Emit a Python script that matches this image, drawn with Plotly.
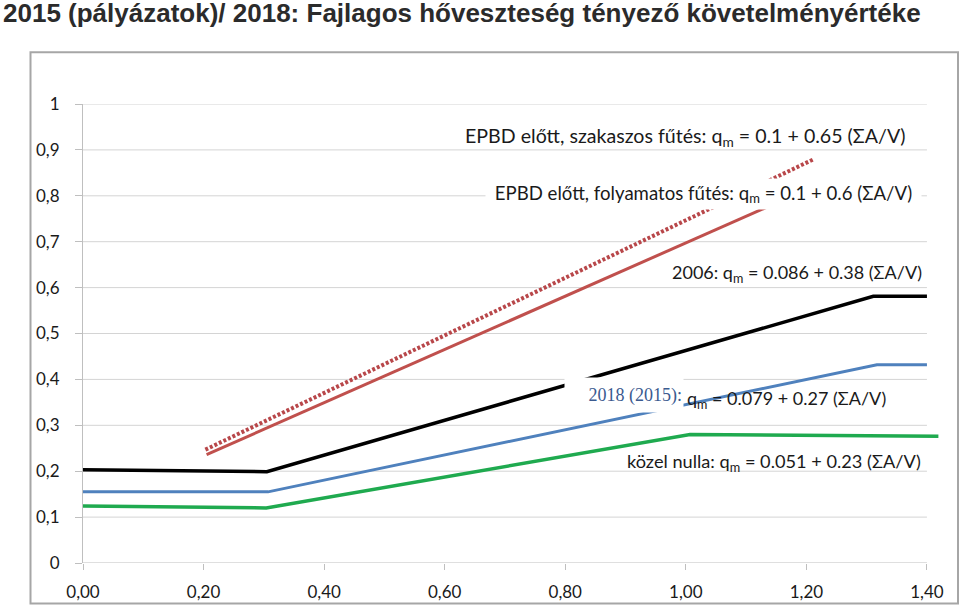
import plotly.graph_objects as go

# ---- data ----
x_ticks = [0.0, 0.2, 0.4, 0.6, 0.8, 1.0, 1.2, 1.4]
x_tick_labels = ["0,00", "0,20", "0,40", "0,60", "0,80", "1,00", "1,20", "1,40"]
y_ticks = [0, 0.1, 0.2, 0.3, 0.4, 0.5, 0.6, 0.7, 0.8, 0.9, 1.0]
y_tick_labels = ["0", "0,1", "0,2", "0,3", "0,4", "0,5", "0,6", "0,7", "0,8", "0,9", "1"]

red_dot_x = [0.203, 1.211]
red_dot_y = [0.247, 0.879]
red_x = [0.205, 1.17]
red_y = [0.236, 0.796]
black_x = [0.0, 0.305, 1.311, 1.40]
black_y = [0.203, 0.199, 0.581, 0.581]
blue_x = [0.0, 0.307, 1.317, 1.40]
blue_y = [0.155, 0.155, 0.432, 0.432]
green_x = [0.0, 0.304, 1.007, 1.419]
green_y = [0.124, 0.120, 0.280, 0.276]

title_text = "<b>2015 (pályázatok)/ 2018: Fajlagos hőveszteség tényező követelményértéke</b>"
lbl_szak = "EPBD előtt, szakaszos fűtés: q<sub>m</sub> = 0.1 + 0.65 (ΣA/V)"
lbl_foly = "EPBD előtt, folyamatos fűtés: q<sub>m</sub> = 0.1 + 0.6 (ΣA/V)"
lbl_2006 = "2006: q<sub>m</sub> = 0.086 + 0.38 (ΣA/V)"
lbl_2018a = "2018 (2015):"
lbl_2018b = "q<sub>m</sub> = 0.079 + 0.27 (ΣA/V)"
lbl_kozel = "közel nulla: q<sub>m</sub> = 0.051 + 0.23 (ΣA/V)"

# ---- layout geometry ----
W, H = 960, 614
ML, MR, MT, MB = 83, 21, 104, 45
PW, PH = W - ML - MR, H - MT - MB
XMAX = 1.42


def px_x(px):  # pixel -> data x
    return (px - ML) / PW * XMAX


def px_y(py):  # pixel -> data y
    return (H - MB - py) / PH


def paper_x(px):
    return (px - ML) / PW


def paper_y(py):
    return (H - MB - py) / PH


fig = go.Figure()

fig.add_trace(go.Scatter(x=red_dot_x, y=red_dot_y, mode="lines",
                         line=dict(color="#b8474a", width=4, dash="3px,2px"),
                         hoverinfo="skip"))
fig.add_trace(go.Scatter(x=red_x, y=red_y, mode="lines",
                         line=dict(color="#c0504d", width=3), hoverinfo="skip"))
fig.add_trace(go.Scatter(x=black_x, y=black_y, mode="lines",
                         line=dict(color="#000000", width=3.5), hoverinfo="skip"))
fig.add_trace(go.Scatter(x=blue_x, y=blue_y, mode="lines",
                         line=dict(color="#4f81bd", width=3), hoverinfo="skip"))
fig.add_trace(go.Scatter(x=green_x, y=green_y, mode="lines",
                         line=dict(color="#1faa4f", width=3.5), hoverinfo="skip"))

shapes = []
# chart border
shapes.append(dict(type="rect", xref="paper", yref="paper",
                   x0=paper_x(30.5), x1=paper_x(958), y0=paper_y(610), y1=paper_y(51.5),
                   line=dict(color="#a6a6a6", width=2), layer="below"))
# horizontal gridlines, ending at the last x tick
for v in y_ticks:
    shapes.append(dict(type="line", xref="x", yref="y",
                       x0=x_ticks[0], x1=x_ticks[-1], y0=v, y1=v,
                       line=dict(color="#bfbfbf" if v == 0 else "#d4d4d4", width=1),
                       layer="below"))


def tf(size):
    return dict(family="Lato, Noto Sans, sans-serif", size=size, color="#1a1a1a")


annotations = [
    dict(text=title_text, xref="paper", yref="paper", x=paper_x(1), y=paper_y(11.5),
         xanchor="left", yanchor="middle", showarrow=False,
         font=dict(family="Liberation Sans, Arial, sans-serif", size=26, color="#2b2b2b")),
    dict(text=lbl_szak, x=px_x(463), y=px_y(137), xanchor="left", yanchor="middle",
         showarrow=False, font=tf(19.6)),
    dict(text=lbl_foly, x=px_x(485), y=px_y(195.5), xanchor="left", yanchor="middle",
         showarrow=False, font=tf(18.6), bgcolor="#ffffff", width=429, height=24,
         align="center", borderpad=3),
    dict(text=lbl_2006, x=px_x(670), y=px_y(276), xanchor="left", yanchor="middle",
         showarrow=False, font=tf(18)),
    dict(text=lbl_2018a, x=px_x(684), y=px_y(399), xanchor="right", yanchor="middle",
         showarrow=False, bgcolor="#ffffff", width=116, height=32, align="right",
         borderpad=1,
         font=dict(family="Liberation Serif, Times New Roman, serif", size=18, color="#3b5a8f")),
    dict(text=lbl_2018b, x=px_x(685), y=px_y(403), xanchor="left", yanchor="middle",
         showarrow=False, font=tf(18)),
    dict(text=lbl_kozel, x=px_x(625), y=px_y(467), xanchor="left", yanchor="middle",
         showarrow=False, font=tf(18.2)),
]

fig.update_layout(
    width=W, height=H,
    margin=dict(l=ML, r=MR, t=MT, b=MB, pad=0),
    paper_bgcolor="#ffffff", plot_bgcolor="#ffffff",
    showlegend=False,
    shapes=shapes,
    annotations=annotations,
    xaxis=dict(range=[0, XMAX], tickvals=x_ticks, ticktext=x_tick_labels,
               showgrid=False, zeroline=False, showline=False,
               ticks="outside", ticklen=6, tickcolor="#bfbfbf", ticklabelstandoff=8,
               tickfont=tf(17), fixedrange=True),
    yaxis=dict(range=[0, 1], tickvals=y_ticks, ticktext=y_tick_labels,
               showgrid=False, zeroline=False, showline=True, linecolor="#bfbfbf",
               ticks="outside", ticklen=7, tickcolor="#bfbfbf", ticklabelstandoff=12,
               tickfont=tf(17), fixedrange=True),
)

fig.write_html("out.html", config={"displayModeBar": False},
               post_script="document.body.style.margin='0';document.body.style.overflow='hidden';")
